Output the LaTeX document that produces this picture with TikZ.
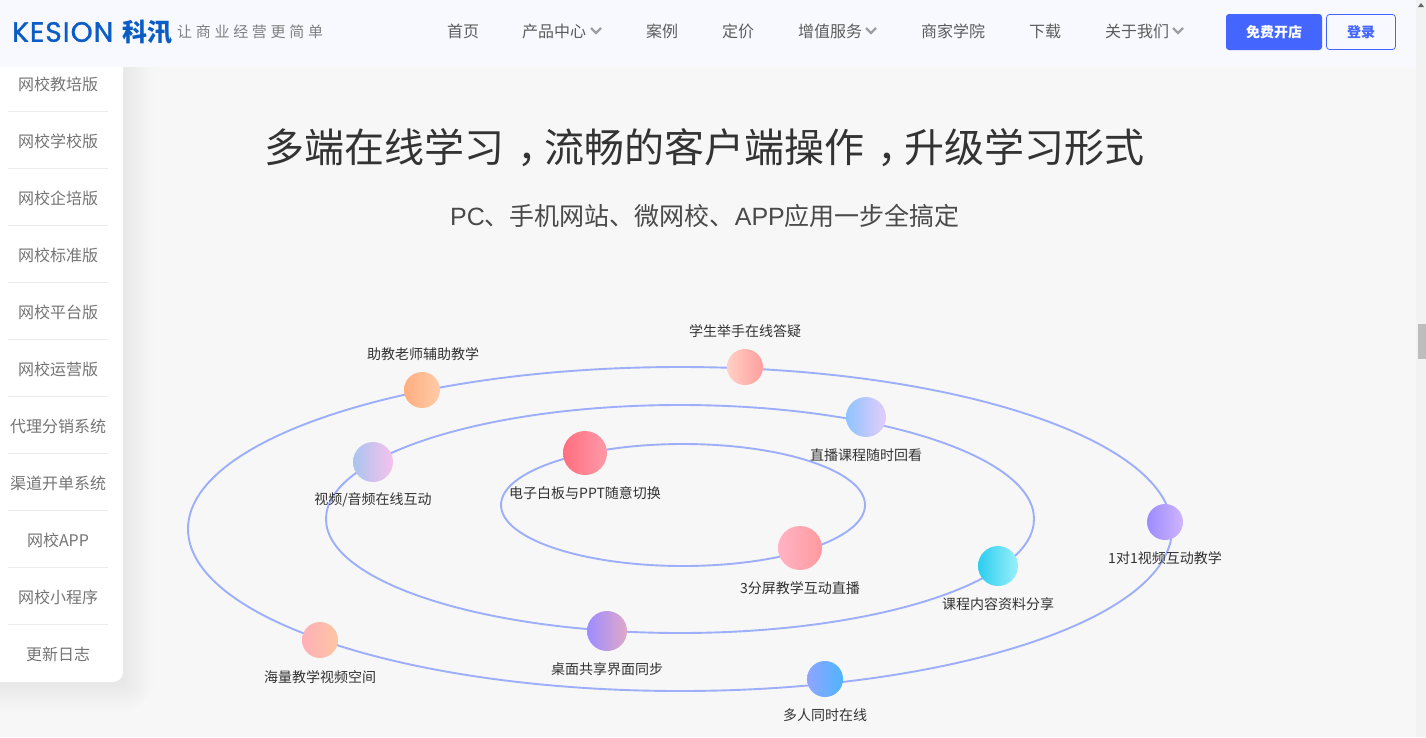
\documentclass[tikz,border=0pt]{standalone}
\usepackage{fontspec}
\usetikzlibrary{shapes.geometric}
\setmainfont{Liberation Sans}
\newfontfamily\cjk{Noto Sans CJK SC}
\newfontfamily\logofont[FakeBold=1.2,LetterSpace=3.6]{Poppins}
\definecolor{pagebg}{HTML}{F7F7F7}
\definecolor{navbg}{HTML}{F8F9FE}
\definecolor{ringc}{HTML}{9DAEFB}
\definecolor{navtxt}{HTML}{5C5C5C}
\definecolor{sidetxt}{HTML}{757575}
\definecolor{btnblue}{HTML}{4466FF}
\definecolor{logoblue}{HTML}{0B5CC4}
\definecolor{lbltxt}{HTML}{333333}
\definecolor{titletxt}{HTML}{333333}
\definecolor{subtxt}{HTML}{4A4A4A}
\definecolor{shadowc}{HTML}{8A94B8}
\newcommand{\midcomma}{\kern13pt，\kern-13pt}
\tikzset{
 x=1pt,y=-1pt,
 ring/.style={draw=ringc,line width=1.9pt,ellipse,inner sep=0pt,minimum width=#1},
 navitem/.style={font=\cjk\fontsize{16}{16}\selectfont,text=navtxt,inner sep=0pt},
 sideitem/.style={font=\cjk\fontsize{16}{16}\selectfont,text=sidetxt,inner sep=0pt},
 lbl/.style={font=\cjk\fontsize{14}{14}\selectfont,text=lbltxt,inner sep=0pt},
 dot/.style n args={3}{circle,inner sep=0pt,minimum size=#1,/utils/exec={\definecolor{cl}{HTML}{#2}\definecolor{cr}{HTML}{#3}},left color=cl,right color=cr},
 chev/.style={draw=gray!75,line width=2.2pt,line join=miter},
 sep/.style={draw=black!8,line width=.8pt},
 softshadow/.style={fill=shadowc,fill opacity=.007,draw=none},
}
\begin{document}
\begin{tikzpicture}
\useasboundingbox (0,0) rectangle (1426,737);
\fill[pagebg] (0,0) rectangle (1426,737);
% scrollbar
\fill[black!5] (1416,0) rectangle (1426,737);
\fill[black!26] (1418,324) rectangle (1426,359);
\fill[black!60] (1418,7) -- (1421,3) -- (1424,7) -- cycle;
% soft shadow of the side panel
\foreach \s in {2,4,6,8,10,12,14,16,18,20,22,24,26,28,30}
  \fill[softshadow,rounded corners=\s pt] (-40,40) rectangle ({123+\s},{682+\s});
% side panel
\fill[white,rounded corners=10pt] (-20,50) rectangle (123,682);
% nav bar
\fill[navbg] (0,0) rectangle (1416,67);
\node[anchor=west,inner sep=0pt,font=\logofont\fontsize{28}{28}\selectfont,text=logoblue] (logo) at (12,32) {KESION};
\node[anchor=west,inner sep=0pt,font=\cjk\bfseries\fontsize{25}{25}\selectfont,text=logoblue] (logocn) at (122,32) {科汛};
\node[anchor=west,inner sep=0pt,font=\cjk\fontsize{15}{15}\selectfont,text=gray] (slogan) at (177,32) {让\hspace{3.7pt}商\hspace{3.7pt}业\hspace{3.7pt}经\hspace{3.7pt}营\hspace{3.7pt}更\hspace{3.7pt}简\hspace{3.7pt}单};
\node[navitem] (n1) at (463,31) {首页};
\node[navitem] (n2) at (554,31) {产品中心};
\node[navitem] (n3) at (662,31) {案例};
\node[navitem] (n4) at (738,31) {定价};
\node[navitem] (n5) at (830,31) {增值服务};
\node[navitem] (n6) at (953,31) {商家学院};
\node[navitem] (n7) at (1045,31) {下载};
\node[navitem] (n8) at (1137,31) {关于我们};
\draw[chev] (591,28) -- (596,33) -- (601,28);
\draw[chev] (866,28) -- (871,33) -- (876,28);
\draw[chev] (1173,28) -- (1178,33) -- (1183,28);
\node[fill=btnblue,rounded corners=3pt,minimum width=96pt,minimum height=36pt,inner sep=0pt,text=white,font=\cjk\bfseries\fontsize{14}{14}\selectfont] (free) at (1274,32) {免费开店};
\node[draw=btnblue,line width=.8pt,rounded corners=3pt,minimum width=69pt,minimum height=35pt,inner sep=0pt,text=btnblue,font=\cjk\bfseries\fontsize{14}{14}\selectfont] (login) at (1361,32) {登录};
% side list
\foreach \nm/\yy/\tx in {a/84/网校教培版,b/141/网校学校版,c/198/网校企培版,d/255/网校标准版,e/312/网校平台版,f/369/网校运营版,g/426/代理分销系统,h/483/渠道开单系统,i/540/网校APP,j/597/网校小程序,k/654/更新日志}
  \node[sideitem] (s\nm) at (58,\yy) {\tx};
\foreach \yy in {111,168,225,282,339,396,453,510,567,624}
  \draw[sep] (8,\yy) -- (108,\yy);
% titles
\node[inner sep=0pt,font=\cjk\fontsize{40}{40}\selectfont,text=titletxt] (title) at (704.5,148) {多端在线学习\midcomma 流畅的客户端操作\midcomma 升级学习形式};
\node[inner sep=0pt,font=\fontsize{25}{25}\selectfont,text=subtxt] (sub) at (705,216) {PC{\cjk 、手机网站、微网校、}APP{\cjk 应用一步全搞定}};
% rings
\node[ring=984pt,minimum height=324pt] (outer) at (680,529) {};
\node[ring=708pt,minimum height=228pt] (middle) at (680,519) {};
\node[ring=364pt,minimum height=122pt] (inner) at (683,505) {};
% dots
\node[dot={36pt}{FFAE80}{FFCBA8}] (d1) at (422,390) {};
\node[dot={36pt}{FFD0C4}{FF9E9E}] (d2) at (745,367) {};
\node[dot={40pt}{8FC4FF}{E4CCFB}] (d3) at (866,417) {};
\node[dot={40pt}{A9C4EF}{F6C2EC}] (d4) at (373,462) {};
\node[dot={44pt}{FF6E80}{FF9AA8}] (d5) at (585,453) {};
\node[dot={44pt}{FFB3C6}{FF9A9E}] (d6) at (800,548) {};
\node[dot={36pt}{9C8CFF}{D0B4FF}] (d7) at (1165,522) {};
\node[dot={40pt}{2CCDEF}{9AF0FA}] (d8) at (998,566) {};
\node[dot={40pt}{9C8CFF}{E0A8C8}] (d9) at (607,631) {};
\node[dot={36pt}{FFB0B8}{FFC4A4}] (d10) at (320,640) {};
\node[dot={36pt}{8FA5FF}{50B4FF}] (d11) at (825,679) {};
% labels
\node[lbl] (l1) at (423,354.3) {助教老师辅助教学};
\node[lbl] (l2) at (745,331.3) {学生举手在线答疑};
\node[lbl] (l3) at (866,455.3) {直播课程随时回看};
\node[lbl] (l4) at (373,500.3) {视频/音频在线互动};
\node[lbl] (l5) at (585,493.3) {电子白板与PPT随意切换};
\node[lbl] (l6) at (800,588.3) {3分屏教学互动直播};
\node[lbl] (l7) at (1165,558.3) {1对1视频互动教学};
\node[lbl] (l8) at (998,604.3) {课程内容资料分享};
\node[lbl] (l9) at (607,669.3) {桌面共享界面同步};
\node[lbl] (l10) at (320,677.3) {海量教学视频空间};
\node[lbl] (l11) at (825,715.3) {多人同时在线};
\end{tikzpicture}
\end{document}
